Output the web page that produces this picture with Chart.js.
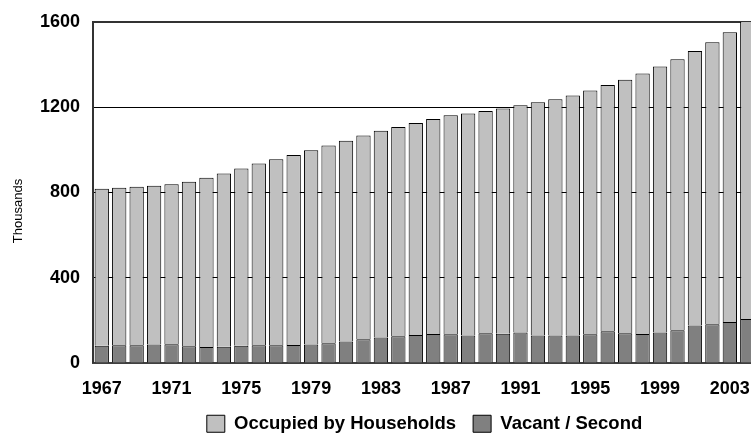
<!DOCTYPE html>
<html>
<head>
<meta charset="utf-8">
<script src="https://cdn.jsdelivr.net/npm/chart.js@4.4.0/dist/chart.umd.min.js"></script>
<style>
  html, body { margin: 0; padding: 0; background: #fff; overflow: hidden; }
  #wrap { width: 770px; height: 443px; }
</style>
</head>
<body>
<div id="wrap"><canvas id="houseChart"></canvas></div>
<script>
// years 1967 - 2004
const years = ['1967','1968','1969','1970','1971','1972','1973','1974','1975','1976',
               '1977','1978','1979','1980','1981','1982','1983','1984','1985','1986',
               '1987','1988','1989','1990','1991','1992','1993','1994','1995','1996',
               '1997','1998','1999','2000','2001','2002','2003','2004'];
const xTickLabels = ['1967','1971','1975','1979','1983','1987','1991','1995','1999','2003'];
const yTicks = [0, 400, 800, 1200, 1600];
const yTitle = 'Thousands';

// thousands of dwellings
const occupied = [737,739,744,745,752,772,794,813,832,853,
                  873,892,912,928,942,956,970,982,995,1009,
                  1028,1042,1043,1057,1066,1094,1109,1126,1145,1156,
                  1190,1222,1248,1272,1289,1324,1360,1399];
const vacant = [80,83,83,86,87,78,75,76,80,83,
                83,84,86,92,101,111,119,125,131,136,
                134,129,139,137,143,129,129,129,134,148,
                139,136,143,153,175,181,192,206];

const fontFam = "'Liberation Sans', Arial, sans-serif";

// y axis title, drawn a bit lower than centre like the original
const yTitlePlugin = {
    id: 'yTitle',
    afterDraw(chart) {
        let c = chart.ctx;
        c.save();
        c.translate(18, 211);
        c.rotate(-Math.PI / 2);
        c.font = '13px ' + fontFam;
        c.fillStyle = '#000';
        c.textAlign = 'center';
        c.textBaseline = 'middle';
        c.fillText(yTitle, 0, 0);
        c.restore();
    }
};

let houseChart = new Chart(document.getElementById('houseChart'), {
    type: 'bar',
    data: {
        labels: years,
        datasets: [{
            label: 'Vacant / Second',
            data: vacant,
            backgroundColor: '#808080',
            borderColor: '#000',
            borderWidth: 1
        }, {
            label: 'Occupied by Households',
            data: occupied,
            backgroundColor: '#c0c0c0',
            borderColor: '#000',
            borderWidth: 1
        }]
    },
    plugins: [yTitlePlugin],
    options: {
        responsive: true,
        maintainAspectRatio: false,
        animation: false,
        layout: { padding: { left: 27, top: 4, right: 14, bottom: 0 } },
        datasets: { bar: { categoryPercentage: 1.0, barPercentage: 0.82 } },
        plugins: {
            tooltip: { enabled: false },
            legend: {
                position: 'bottom',
                fullSize: false,
                reverse: true,
                labels: {
                    boxWidth: 18,
                    boxHeight: 17,
                    padding: 17,
                    color: '#000',
                    font: { family: fontFam, size: 18.5, weight: 'bold' }
                }
            }
        },
        scales: {
            x: {
                stacked: true,
                grid: { display: false, drawTicks: false },
                border: { color: '#404040', width: 2 },
                afterFit: function(axis) { axis.height -= 17; },
                ticks: {
                    autoSkip: false,
                    maxRotation: 0,
                    padding: 15,
                    color: '#000',
                    font: { family: fontFam, size: 18, weight: 'bold' },
                    callback: function(v, i) {
                        let lab = years[i];
                        return xTickLabels.includes(lab) ? lab : '';
                    }
                }
            },
            y: {
                stacked: true,
                min: 0,
                max: 1600,
                afterBuildTicks: function(axis) {
                    axis.ticks = yTicks.map(v => ({ value: v }));
                },
                grid: {
                    drawTicks: false,
                    color: function(ctx) { return ctx.tick && ctx.tick.value === 1600 ? '#333' : '#000'; },
                    lineWidth: function(ctx) { return ctx.tick && ctx.tick.value === 1600 ? 2 : 1; }
                },
                border: { color: '#333', width: 2 },
                ticks: {
                    padding: 13,
                    color: '#000',
                    font: { family: fontFam, size: 18, weight: 'bold', lineHeight: 1 },
                    callback: function(v) { return String(v); }
                }
            }
        }
    }
});
</script>
</body>
</html>
